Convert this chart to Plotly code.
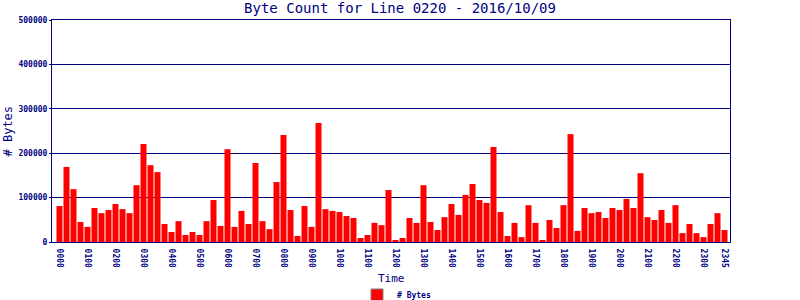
import plotly.graph_objects as go

times = [
    "0000", "0015", "0030", "0045", "0100", "0115", "0130", "0145",
    "0200", "0215", "0230", "0245", "0300", "0315", "0330", "0345",
    "0400", "0415", "0430", "0445", "0500", "0515", "0530", "0545",
    "0600", "0615", "0630", "0645", "0700", "0715", "0730", "0745",
    "0800", "0815", "0830", "0845", "0900", "0915", "0930", "0945",
    "1000", "1015", "1030", "1045", "1100", "1115", "1130", "1145",
    "1200", "1215", "1230", "1245", "1300", "1315", "1330", "1345",
    "1400", "1415", "1430", "1445", "1500", "1515", "1530", "1545",
    "1600", "1615", "1630", "1645", "1700", "1715", "1730", "1745",
    "1800", "1815", "1830", "1845", "1900", "1915", "1930", "1945",
    "2000", "2015", "2030", "2045", "2100", "2115", "2130", "2145",
    "2200", "2215", "2230", "2245", "2300", "2315", "2330", "2345",
]

byte_counts = [
    81000, 169000, 119000, 45000, 34000, 76500, 65000, 72000,
    85600, 74000, 65000, 128000, 220600, 173000, 157500, 40500,
    22500, 47000, 15800, 22500, 15800, 47000, 94500, 36000,
    209000, 34000, 70000, 40500, 178000, 47000, 29000, 135000,
    241000, 72000, 13500, 81000, 34000, 268000, 74000, 70000,
    67500, 58500, 54000, 9000, 15800, 43000, 38000, 117000,
    4500, 9000, 54000, 43000, 128000, 45000, 27000, 56000,
    85600, 61000, 106000, 130600, 94500, 88000, 214000, 67500,
    13500, 43000, 11000, 83000, 43000, 4500, 49500, 31500,
    83000, 243000, 25000, 76500, 65000, 67500, 54000, 76500,
    72000, 97000, 76500, 155000, 56000, 49500, 72000, 43000,
    83000, 20000, 40500, 20000, 11000, 40500, 65000, 27000,
]

tick_labels = [
    "0000", "0100", "0200", "0300", "0400", "0500", "0600", "0700",
    "0800", "0900", "1000", "1100", "1200", "1300", "1400", "1500",
    "1600", "1700", "1800", "1900", "2000", "2100", "2200", "2300", "2345",
]

NAVY = "#000080"
MONO = "DejaVu Sans Mono"

fig = go.Figure()
fig.add_trace(go.Bar(
    x=times, y=byte_counts, name="# Bytes",
    marker=dict(color="#ff0000", line=dict(width=0)),
    showlegend=False, hoverinfo="x+y",
))
# legend-only entry (bordered swatch as in the reference)
fig.add_trace(go.Bar(
    x=[times[0]], y=[None], name="# Bytes",
    marker=dict(color="#ff0000", line=dict(color="#808080", width=1)),
    showlegend=True, hoverinfo="skip",
))

fig.update_layout(
    width=800, height=300,
    margin=dict(l=52, r=70, t=20, b=58, autoexpand=False),
    paper_bgcolor="white", plot_bgcolor="white",
    barmode="overlay", bargap=1/7,
    title=dict(text="Byte Count for Line 0220 - 2016/10/09",
               x=0.5, xref="container", xanchor="center",
               y=1 - 8/300, yref="container", yanchor="middle",
               font=dict(family=MONO, size=14, color=NAVY)),
    xaxis=dict(
        type="category", range=[-1.071, 95.786],
        tickmode="array", tickvals=tick_labels, ticktext=tick_labels,
        tickangle=90, ticks="outside", ticklen=4, tickcolor="rgba(0,0,0,0)",
        tickfont=dict(family=MONO, size=8, color=NAVY, weight="bold"),
        showline=True, linecolor=NAVY, linewidth=1, mirror=True,
        showgrid=False, zeroline=False, automargin=False,
    ),
    yaxis=dict(
        range=[0, 500000], dtick=100000, tickformat="d",
        ticks="outside", ticklen=2, tickcolor=NAVY,
        tickfont=dict(family=MONO, size=8, color=NAVY, weight="bold"),
        showline=True, linecolor=NAVY, linewidth=1, mirror=True,
        showgrid=True, gridcolor=NAVY, gridwidth=1, zeroline=False,
        automargin=False,
    ),
    legend=dict(orientation="h", x=(357 - 52) / 678, xanchor="left",
                y=(242 - 295) / 222, yanchor="middle", itemwidth=30,
                font=dict(family=MONO, size=8, color=NAVY, weight="bold"),
                bgcolor="rgba(0,0,0,0)"),
    annotations=[
        dict(text="Time", x=0.5, xref="paper", y=(242 - 278) / 222, yref="paper",
             xanchor="center", yanchor="middle", showarrow=False,
             font=dict(family=MONO, size=11, color=NAVY)),
        dict(text="# Bytes", x=(7.5 - 52) / 678, xref="paper", y=0.5, yref="paper",
             xanchor="center", yanchor="middle", textangle=-90, showarrow=False,
             font=dict(family=MONO, size=12, color=NAVY)),
    ],
)

fig.write_html("out.html")
